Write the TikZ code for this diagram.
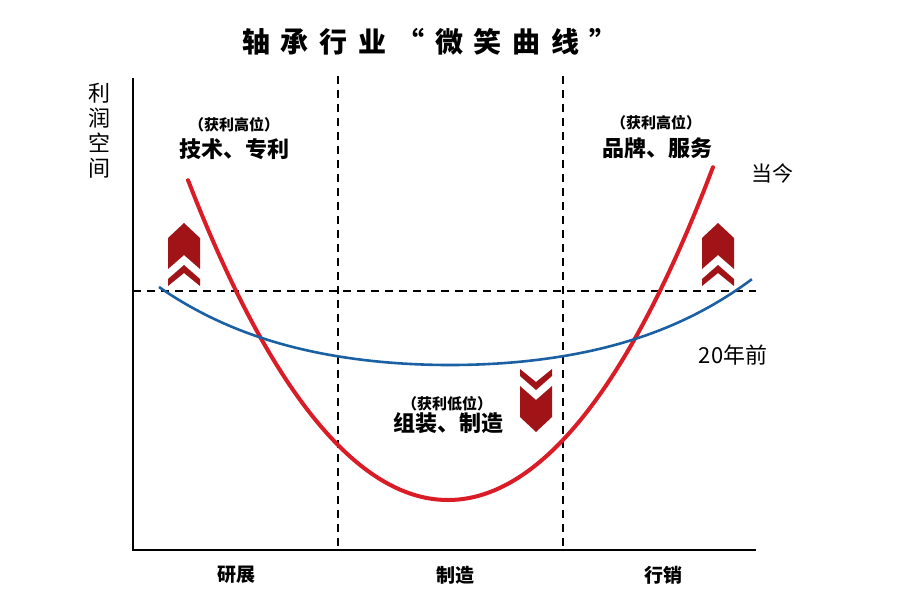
\documentclass[tikz,border=0pt]{standalone}
\usepackage{fontspec}
\setmainfont{Noto Sans CJK SC}
\definecolor{curvered}{RGB}{218,28,38}
\definecolor{curveblue}{RGB}{28,96,164}
\definecolor{arrowred}{RGB}{160,20,24}
\tikzset{
  axisline/.style={line width=2.6pt, black},
  gridline/.style={line width=2.2pt, black, dash pattern=on 8pt off 6pt},
  smalllab/.style={font=\fontsize{15}{16}\selectfont\bfseries, inner sep=0pt},
  biglab/.style={font=\fontsize{22}{24}\selectfont\bfseries, inner sep=0pt},
  plainlab/.style={font=\fontsize{21}{23}\selectfont, inner sep=0pt},
  bottomlab/.style={font=\fontsize{19}{21}\selectfont\bfseries, inner sep=0pt},
  chevronup/.pic={
    \fill[arrowred] (0,0)--(16,15)--(16,46)--(0,32)--(-16,46)--(-16,15)--cycle;
    \fill[arrowred] (0,42)--(16,56)--(16,63)--(0,50)--(-16,63)--(-16,56)--cycle;
  }
}
\begin{document}
\begin{tikzpicture}[x=1pt,y=-1pt]
\useasboundingbox[fill=white] (0,0) rectangle (900,600);
% title
\node[inner sep=0pt, font=\fontsize{28}{30}\selectfont\bfseries\addfontfeatures{LetterSpace=38}] (title) at (430,42) {轴承行业“微笑曲线”};
% axes
\coordinate (otop) at (133,78);
\coordinate (orig) at (133,550);
\coordinate (xend) at (756,550);
\draw[gridline] (338,76) coordinate (v1top) -- (338,550) coordinate (v1bot);
\draw[gridline] (563,76) coordinate (v2top) -- (563,550) coordinate (v2bot);
\draw[gridline] (133,291) coordinate (hl) -- (756,291) coordinate (hr);
\draw[axisline] (otop) -- (orig) -- (xend);
% y label
\node[inner sep=0pt, align=center, font=\fontsize{22}{25}\selectfont] (ylab) at (99,131) {利\\润\\空\\间};
% red curve
\draw[curvered, line width=4pt, line cap=round] plot[domain=-2.60:2.65, samples=120, smooth]
  ({448+100*\x},{500-45*\x*\x-0.343*\x*\x*\x*\x});
% blue curve
\draw[curveblue, line width=2.6pt] plot[domain=-2.91:3.02, samples=120, smooth]
  ({450+100*\x},{365-6.5*\x*\x-0.32*\x*\x*\x*\x});
% arrows
\pic at (184,223) {chevronup};
\pic at (718,223) {chevronup};
\pic[yscale=-1] at (536,432) {chevronup};
% labels
\node[smalllab] (lh1) at (234,125) {（获利高位）};
\node[biglab] (lh2) at (234,149) {技术、专利};
\node[smalllab] (rh1) at (656,123) {（获利高位）};
\node[biglab] (rh2) at (657,148) {品牌、服务};
\node[smalllab] (ml1) at (447,404) {（获利低位）};
\node[biglab] (ml2) at (448,423) {组装、制造};
\node[plainlab] (now) at (772,173) {当今};
\node[plainlab, font=\fontsize{22}{24}\selectfont] (past) at (733,355) {20年前};
\node[bottomlab] (b1) at (236,575) {研展};
\node[bottomlab] (b2) at (455,575) {制造};
\node[bottomlab] (b3) at (663,575) {行销};
\end{tikzpicture}
\end{document}
